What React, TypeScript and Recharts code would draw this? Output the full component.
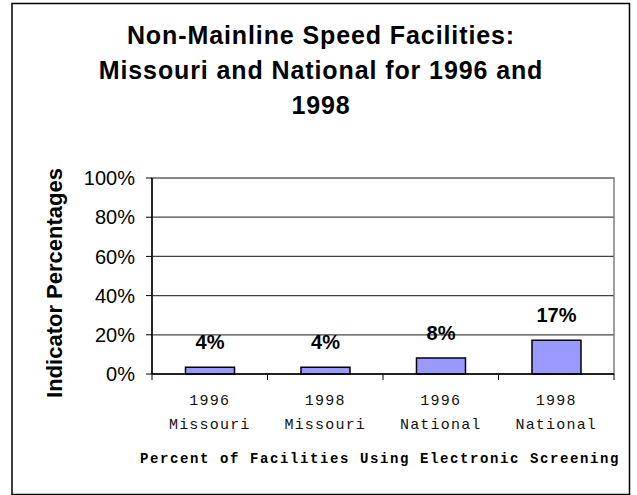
import { Bar, BarChart, CartesianGrid, LabelList, ReferenceArea, XAxis, YAxis } from "recharts";

const YEARS = ["1996", "1998", "1996", "1998"];
const REGIONS = ["Missouri", "Missouri", "National", "National"];
const VALUES = [3.5, 3.5, 8.2, 17.2];
const Y_TICKS = [0, 20, 40, 60, 80, 100];

const TITLE_LINES = ["Non-Mainline Speed Facilities:", "Missouri and National for 1996 and", "1998"];
const Y_TITLE = "Indicator Percentages";
const X_TITLE = "Percent of Facilities Using Electronic Screening";

const data = YEARS.map((year, i) => ({
  key: `${year} ${REGIONS[i]}`,
  year,
  region: REGIONS[i],
  value: VALUES[i]
}));

const SANS = "'Liberation Sans', Arial, sans-serif";
const MONO = "'Liberation Mono', 'Courier New', monospace";

function CategoryTick(props: any) {
  const { x, y, index, width, visibleTicksCount } = props;
  const band = width / visibleTicksCount;
  const axisY = y - 6;
  const item = data[index];
  const left = x - band / 2;
  const right = x + band / 2;
  return (
    <g>
      <line x1={left} x2={left} y1={axisY} y2={axisY + 6} stroke="#000" />
      {index === visibleTicksCount - 1 && (
        <line x1={right} x2={right} y1={axisY} y2={axisY + 6} stroke="#000" />
      )}
      <text x={x} y={axisY + 31} textAnchor="middle" fontFamily={MONO} fontSize={15} letterSpacing={1.2} fill="#111">
        {item.year}
      </text>
      <text x={x} y={axisY + 55} textAnchor="middle" fontFamily={MONO} fontSize={15} letterSpacing={1.2} fill="#111">
        {item.region}
      </text>
    </g>
  );
}

export default function App() {
  return (
    <div style={{ position: "absolute", left: 0, top: 0, width: 637, height: 495, background: "#fff" }}>
      <BarChart
        width={637}
        height={495}
        data={data}
        margin={{ top: 178, right: 23, bottom: 41, left: 92 }}
        barCategoryGap="29%"
      >
        <CartesianGrid vertical={false} stroke="#444" strokeWidth={1.2} />
        <ReferenceArea y1={0} y2={100} fill="none" stroke="#808080" strokeWidth={1.5} ifOverflow="visible" />
        <XAxis
          dataKey="key"
          height={80}
          tickLine={false}
          tickSize={6}
          tickMargin={0}
          axisLine={{ stroke: "#000", strokeWidth: 1.5 }}
          tick={<CategoryTick />}
          interval={0}
        />
        <YAxis
          width={60}
          domain={[0, 100]}
          ticks={Y_TICKS}
          tickFormatter={(v: number) => `${v}%`}
          tickSize={6}
          tickMargin={11}
          tickLine={{ stroke: "#000" }}
          axisLine={{ stroke: "#000", strokeWidth: 1.5 }}
          tick={{ fill: "#000", fontSize: 20, fontFamily: SANS }}
        />
        <Bar dataKey="value" fill="#9999FF" stroke="#000" strokeWidth={1.5} isAnimationActive={false}>
          <LabelList
            dataKey="value"
            position="top"
            offset={18}
            formatter={(v: any) => `${Math.round(Number(v))}%`}
            style={{ fill: "#000", fontSize: 20, fontWeight: "bold", fontFamily: SANS }}
          />
        </Bar>
      </BarChart>
      <svg
        width={637}
        height={495}
        style={{ position: "absolute", left: 0, top: 0, pointerEvents: "none" }}
      >
        <rect x={12} y={3.5} width={617.5} height={491} fill="none" stroke="#000" strokeWidth={1.5} />
        {TITLE_LINES.map((line, i) => (
          <text
            key={line}
            x={321}
            y={44 + i * 35}
            textAnchor="middle"
            fontFamily={SANS}
            fontWeight="bold"
            fontSize={25}
            letterSpacing={0.9}
            fill="#000"
          >
            {line}
          </text>
        ))}
        <text
          transform="translate(62 283) rotate(-90)"
          textAnchor="middle"
          fontFamily={SANS}
          fontWeight="bold"
          fontSize={22}
          fill="#000"
        >
          {Y_TITLE}
        </text>
        <text
          x={380}
          y={463}
          textAnchor="middle"
          fontFamily={MONO}
          fontWeight="bold"
          fontSize={14}
          letterSpacing={1.6}
          fill="#000"
        >
          {X_TITLE}
        </text>
      </svg>
    </div>
  );
}
